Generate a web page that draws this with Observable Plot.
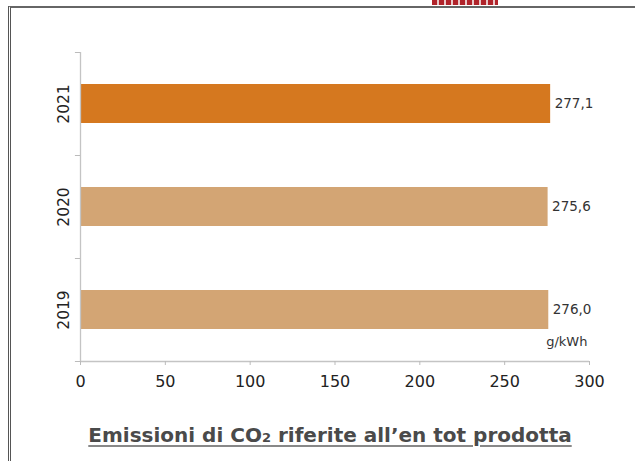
<!DOCTYPE html>
<html>
<head>
<meta charset="utf-8">
<script src="https://cdn.jsdelivr.net/npm/d3@7"></script>
<script src="https://cdn.jsdelivr.net/npm/@observablehq/plot@0.6"></script>
<style>
  html, body { margin: 0; padding: 0; background: #fff; }
  #wrap { position: relative; width: 635px; height: 461px; overflow: hidden; background: #fff; }
  #frame { position: absolute; left: 8px; top: 6px; width: 640px; height: 470px;
           border-left: 3px double #555; border-top: 2px solid #666; }
  #logo { position: absolute; left: 432px; top: 0px; width: 66px; height: 5px;
          background: repeating-linear-gradient(90deg, #b0232a 0 5px, #e8c8c8 5px 7px); }
  #chart { position: absolute; left: 0; top: 0; }
  #title { position: absolute; left: 0; width: 660px; top: 423px; text-align: center;
           font: bold 20px "DejaVu Sans", Verdana, sans-serif; color: #4a4a4a;
           text-decoration: underline; text-decoration-color: #888; text-underline-offset: 3px; }
</style>
</head>
<body>
<div id="wrap">
  <div id="logo"></div>
  <div id="frame"></div>
  <div id="chart"></div>
  <div id="title">Emissioni di CO<span style="font-size:13px">2</span> riferite all’en tot prodotta</div>
</div>
<script>
const years = ["2021", "2020", "2019"];
const values = [277.1, 275.6, 276.0];
const labels = ["277,1", "275,6", "276,0"];
const xTicks = [0, 50, 100, 150, 200, 250, 300];
const unit = "g/kWh";
const highlightYear = "2021";

const data = years.map((y, i) => ({year: y, value: values[i], label: labels[i]}));
const font = "DejaVu Sans, Verdana, sans-serif";

const plot = Plot.plot({
  width: 635,
  height: 400,
  marginLeft: 80,
  marginRight: 46,
  marginTop: 52,
  marginBottom: 39,
  style: {fontFamily: font, background: "transparent", color: "#222"},
  x: {domain: [0, 300], ticks: xTicks, label: null},
  y: {domain: years, paddingInner: 0.62, paddingOuter: 0.31, label: null},
  marks: [
    Plot.barX(data, {
      y: "year", x: "value",
      fill: d => d.year === highlightYear ? "#D5781F" : "#D3A574"
    }),
    Plot.text(data, {
      y: "year", x: "value", text: "label",
      textAnchor: "start", dx: 4, fontSize: 13.5, fill: "#333"
    }),
    Plot.text([unit], {
      x: [values[2]], y: [years[2]], text: d => d,
      dy: 32, dx: 18, fontSize: 13, fill: "#333"
    }),
    // axis lines
    Plot.ruleX([0], {stroke: "#c4c4c4", strokeWidth: 1.3}),
    Plot.ruleY([years[2]], {x1: 0, x2: 300, dy: 51.5, stroke: "#c4c4c4", strokeWidth: 1.3}),
    // category boundary ticks on y axis
    Plot.ruleY(years, {x1: -3, x2: 0, dy: -51.5, stroke: "#bbb"}),
    Plot.ruleY([years[2]], {x1: -3, x2: 0, dy: 51.5, stroke: "#bbb"}),
    Plot.axisX({ticks: xTicks, tickSize: 4, stroke: "#bbb", tickPadding: 10,
                fontSize: 16, fill: "#222", label: null}),
    Plot.axisY({tickSize: 0, tickPadding: 12, tickRotate: -90, fontSize: 15.5,
                fill: "#222", label: null, textAnchor: "middle"})
  ]
});
document.getElementById("chart").appendChild(plot);
</script>
</body>
</html>
